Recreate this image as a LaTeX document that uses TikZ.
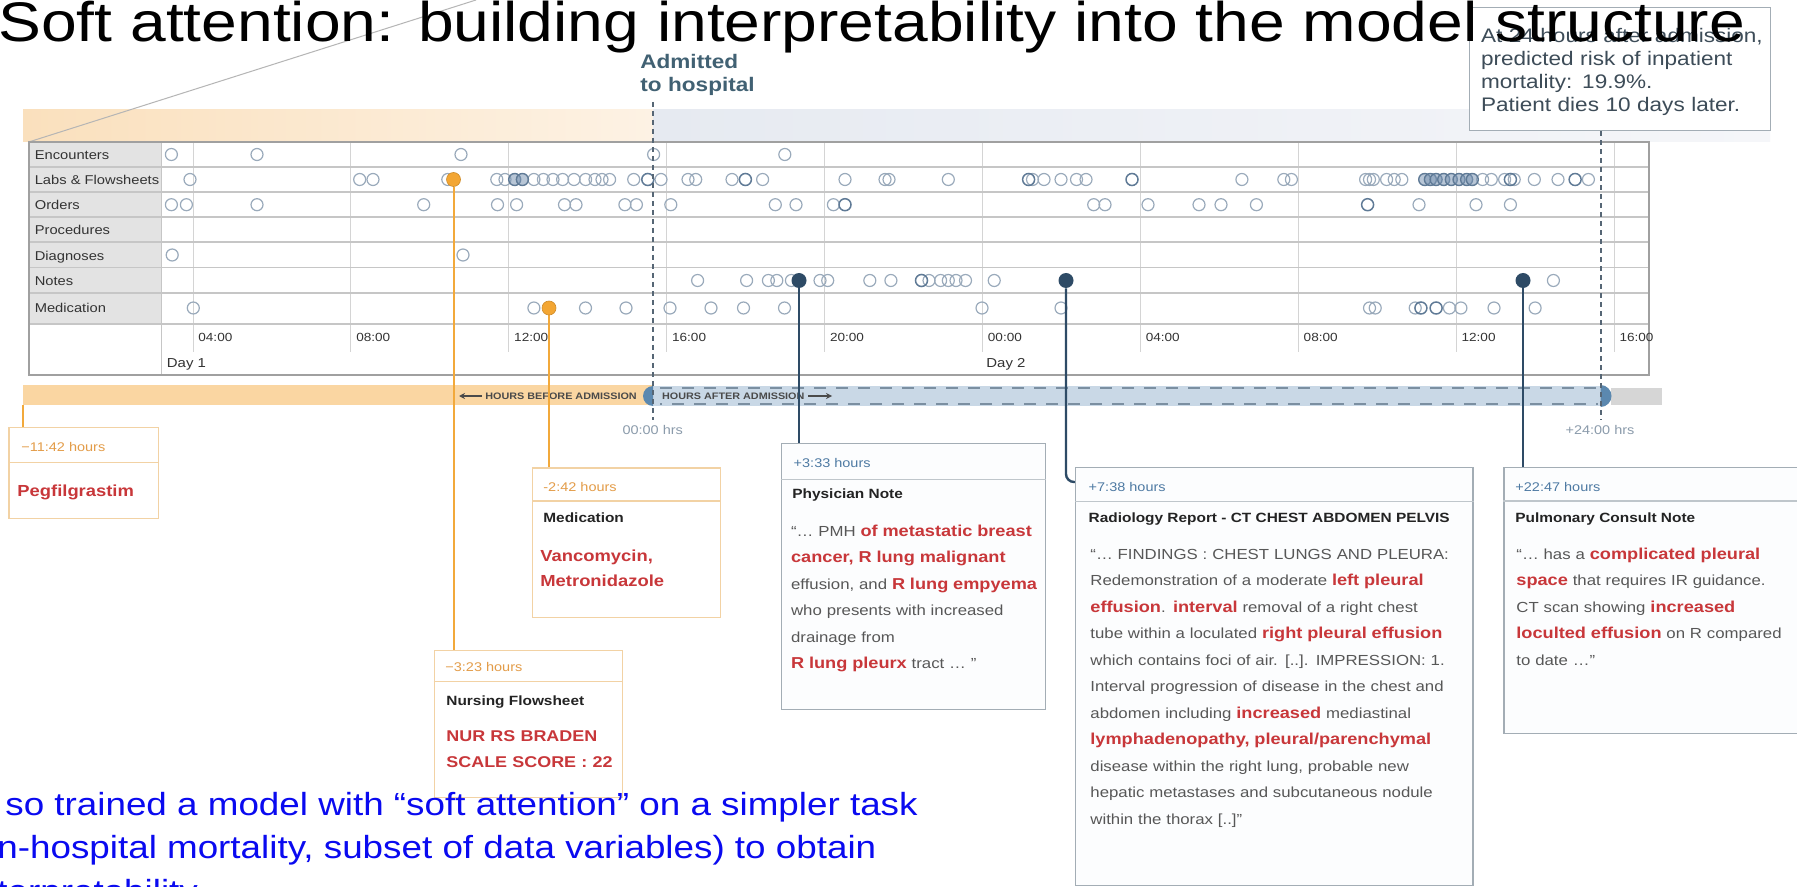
\documentclass[tikz,border=0pt]{standalone}
\usepackage{fontspec}
\setmainfont{Liberation Sans}[FakeStretch=1.15]
\usetikzlibrary{arrows.meta,calc}
\definecolor{rd}{HTML}{C8373A}
\definecolor{bodyg}{HTML}{575757}
\definecolor{ttl}{HTML}{232323}
\definecolor{hdrb}{HTML}{4E7AA3}
\definecolor{hdro}{HTML}{E39C48}
\definecolor{oborder}{HTML}{F2D2A4}
\definecolor{gborder}{HTML}{A3ADB5}
\definecolor{boxfill}{HTML}{FCFDFE}
\definecolor{navy}{HTML}{2E4B66}
\definecolor{corange}{HTML}{F2A93B}
\definecolor{dorange}{HTML}{F3A633}
\definecolor{cgray}{HTML}{9AAABB}
\definecolor{cdark}{HTML}{5F7A96}
\definecolor{cfill}{HTML}{7E98B5}
\definecolor{dline}{HTML}{566675}
\definecolor{colL}{HTML}{E3E3E3}
\definecolor{rowl}{HTML}{C6C6C6}
\definecolor{vl}{HTML}{D4D4D4}
\definecolor{gbd}{HTML}{A0A0A0}
\definecolor{barO}{HTML}{FAD6A2}
\definecolor{barB}{HTML}{C9D8E6}
\definecolor{barG}{HTML}{D6D6D6}
\definecolor{semiB}{HTML}{5B88AF}
\definecolor{dashB}{HTML}{7B8FA1}
\definecolor{hrsg}{HTML}{8B9BAB}
\definecolor{admc}{HTML}{416173}
\definecolor{infot}{HTML}{3D4C58}
\definecolor{ovl}{HTML}{0A0AF0}
\definecolor{lbl}{HTML}{333333}
\definecolor{peachA}{HTML}{FAE0BD}
\definecolor{peachB}{HTML}{FDF2E4}
\definecolor{bandA}{HTML}{E6EAF1}
\definecolor{bandB}{HTML}{F5F6F9}
\definecolor{diag}{HTML}{B5B5B5}
\definecolor{bartxt}{HTML}{4A4A4A}
\newcommand\fsz[2]{\fontsize{#1}{#2}\selectfont}
\newcommand\redb{\bfseries\color{rd}\fontsize{7.9}{13.25}\selectfont}
\pgfdeclarelayer{bg}
\pgfdeclarelayer{conn}
\pgfsetlayers{bg,conn,main}
\tikzset{
  circ/.style={draw=cgray, line width=0.6pt},
  circd/.style={draw=cdark, line width=0.75pt},
  circf/.style={draw=cdark, fill=cfill, fill opacity=0.55, line width=0.7pt},
  odot/.style={circle, fill=dorange, draw=dorange!85!black, line width=0.3pt, minimum size=7pt, inner sep=0},
  ndot/.style={circle, fill=navy, minimum size=7.5pt, inner sep=0},
  oconn/.style={draw=corange, line width=1pt},
  bconn/.style={draw=navy, line width=1.2pt},
  obox/.style={rectangle, draw=oborder, fill=white, line width=0.6pt, anchor=north west, inner sep=0},
  gbox/.style={rectangle, draw=gborder, fill=boxfill, line width=0.7pt, anchor=north west, inner sep=0},
  odiv/.style={draw=oborder, line width=0.6pt},
  gdiv/.style={draw=gborder!70, line width=0.6pt},
  txt/.style={anchor=base west, inner sep=0},
  admline/.style={draw=dline, line width=0.6pt, dash pattern=on 2.5pt off 2pt},
  rowlab/.style={txt, font=\fsz{6.4}{8}, text=lbl},
  timelab/.style={txt, font=\fsz{5.9}{7}, text=lbl},
  hdr/.style={txt, font=\fsz{6.3}{8}},
  boxtitle/.style={txt, font=\bfseries\fsz{6.7}{8}, text=ttl},
  body/.style={txt, text width=260pt, align=left, font=\fsz{7.3}{13.25}, text=bodyg},
  redtxt/.style={txt, text width=120pt, align=left, font=\bfseries\fsz{8}{12.5}, text=rd},
  bartext/.style={anchor=west, inner sep=0, font=\bfseries\fsz{4.7}{6}, text=bartxt},
  hrs/.style={anchor=center, inner sep=0, font=\fsz{6.3}{8}, text=hrsg},
}
\begin{document}
\begin{tikzpicture}[x=0.5pt,y=-0.5pt]
\useasboundingbox (0,0) rectangle (1797,887);

\begin{pgfonlayer}{bg}
\fill[white] (0,0) rectangle (1797,887);
% top bands
\shade[left color=peachA, right color=peachB] (23,110) rectangle (653,142);
\shade[left color=bandA, right color=bandB] (653,110) rectangle (1770,142);
% diagonal guide line
\draw[diag, line width=0.5pt] (28.7,142) -- (476,0);
% grid
\fill[white] (28.7,142) rectangle (1649.3,375);
\fill[colL] (28.7,142) rectangle (161.5,324.3);
\foreach \x in {193,350.9,508.8,666.7,824.6,982.5,1140.4,1298.3,1456.2,1614.1}
  \draw[vl, line width=0.5pt] (\x,142) -- (\x,352);
\foreach \y in {167,192,217.3,242.3,267.7,293.3,324.3}
  \draw[rowl, line width=0.8pt] (28.7,\y) -- (1649.3,\y);
\draw[rowl, line width=0.6pt] (161.5,142) -- (161.5,375);
\draw[gbd, line width=0.9pt] (28.7,142) rectangle (1649.3,375);
% row labels
\node[rowlab] (rEnc) at (34.4,159.5) {Encounters};
\node[rowlab] (rLab) at (34.4,184.5) {Labs \& Flowsheets};
\node[rowlab] (rOrd) at (34.4,210) {Orders};
\node[rowlab] (rPro) at (34.4,234.5) {Procedures};
\node[rowlab] (rDia) at (34.4,261) {Diagnoses};
\node[rowlab] (rNot) at (34.4,286) {Notes};
\node[rowlab] (rMed) at (34.4,313) {Medication};
% time labels
\foreach \x/\t [count=\i] in {193/04:00,350.9/08:00,508.8/12:00,666.7/16:00,824.6/20:00,982.5/00:00,1140.4/04:00,1298.3/08:00,1456.2/12:00,1614.1/16:00}
  \node[timelab] (tl\i) at (\x+5,341.5) {\t};
\node[txt, font=\fsz{6.5}{8}, text=lbl] (day1) at (166.5,367) {Day 1};
\node[txt, font=\fsz{6.5}{8}, text=lbl] (day2) at (986,367) {Day 2};
% event circles
\foreach \x in {171.4,257,461,653.6,784.8} \draw[circ] (\x,154.5) circle[radius=6];
\foreach \x in {190,359.7,373,447.8,496.8,505,533.9,543.4,553,562.6,574,585.6,595,602,609.6,633.7,661,688,695.7,732,762.6,845,885,889,948.3,1032.5,1044,1061,1076.5,1086,1241.9,1283.8,1291.4,1365.6,1369.5,1373.3,1386.6,1394.2,1401.8,1482.6,1491.3,1504.6,1514.2,1534.3,1558,1588.4}
  \draw[circ] (\x,179.5) circle[radius=6];
\foreach \x in {647.8,745.4,1028.6,1132,1510.4,1575.1} \draw[circd] (\x,179.5) circle[radius=6];
\foreach \x in {514.7,522.4,1424.7,1430.4,1436.1,1443.7,1451.3,1459,1466.6,1472.3} \draw[circf] (\x,179.5) circle[radius=6];
\foreach \x in {171.4,186.4,257,423.7,497.5,516.6,564.5,576,624.9,636.4,670.8,775.3,796,833.4,1093.7,1105,1148,1199,1221,1256.4,1419,1476,1510.4}
  \draw[circ] (\x,204.7) circle[radius=6];
\foreach \x in {845,1367.6} \draw[circd] (\x,204.7) circle[radius=6];
\foreach \x in {172.2,463} \draw[circ] (\x,255) circle[radius=6];
\foreach \x in {697.6,746.6,768.4,776.8,791.4,820,827.7,869.8,890.9,929,940.6,948.3,956,965.5,994.2,1553.4}
  \draw[circ] (\x,280.5) circle[radius=6];
\draw[circd] (921.5,280.5) circle[radius=6];
\foreach \x in {193.3,533.9,585.5,626,670,711,743.5,784.5,982,1061,1369.5,1375.2,1415.2,1449.4,1460.9,1494,1535.1}
  \draw[circ] (\x,308) circle[radius=6];
\foreach \x in {1420.9,1436.1} \draw[circd] (\x,308) circle[radius=6];
% time bar
\fill[barO] (23,385) rectangle (653,405);
\fill[barB] (653,386) rectangle (1600.5,406);
\fill[barG] (1611,388) rectangle (1661.6,405);
\draw[dashB, line width=0.8pt, dash pattern=on 6pt off 5pt] (660,388) -- (1598,388);
\draw[dashB, line width=0.8pt, dash pattern=on 6pt off 5pt, dash phase=5pt] (660,404) -- (1598,404);
\fill[semiB] (653,406) arc[start angle=90, end angle=270, radius=10] -- cycle;
\fill[semiB] (1600.5,407) arc[start angle=90, end angle=-90, radius=11] -- cycle;
\coordinate (hbA) at (482,396);
\coordinate (hbB) at (459,396);
\draw[bartxt, line width=0.6pt, -{Stealth[length=3pt,width=3pt]}] (hbA) -- (hbB);
\node[bartext] (hb) at (485,396) {HOURS BEFORE ADMISSION};
\node[bartext] (ha) at (661.7,396) {HOURS AFTER ADMISSION};
\coordinate (haA) at (808,396);
\coordinate (haB) at (832,396);
\draw[bartxt, line width=0.6pt, -{Stealth[length=3pt,width=3pt]}] (haA) -- (haB);
\node[hrs] (h0) at (652.7,430) {00:00 hrs};
\node[hrs] (h24) at (1600,430) {+24:00 hrs};
% admission dashed line
\coordinate (admT) at (653,102);
\coordinate (admB) at (653,420);
\draw[admline] (admT) -- (admB);
\end{pgfonlayer}

% info box (top right)
\node[gbox, draw=gborder, fill=white, minimum width=150.5pt, minimum height=61.5pt] (info) at (1469,7) {};
\node[txt, text width=160pt, align=left, font=\fsz{9.8}{11.5}, text=infot] (infotxt) at (1480.6,42.4)
  {At 24 hours after admission,\\predicted risk of inpatient\\mortality: 19.9\%.\\Patient dies 10 days later.};
\coordinate (d24B) at (1601,420);
\begin{pgfonlayer}{conn}
\draw[admline] (info.south -| d24B) -- (d24B);
\end{pgfonlayer}

% Admitted label
\node[txt, text width=80pt, align=left, font=\bfseries\fsz{9.8}{11.75}, text=admc] (adm) at (640,68.5) {Admitted\\to hospital};

% event dots
\node[odot] (dLabs) at (453.5,179.5) {};
\node[odot] (dMed) at (549,308) {};
\node[ndot] (dN1) at (799,280.5) {};
\node[ndot] (dN2) at (1066,280.5) {};
\node[ndot] (dN3) at (1523,280.5) {};

% boxes
\node[obox, minimum width=74.65pt, minimum height=45.5pt] (peg) at (8.4,426.7) {};
\node[obox, minimum width=94pt, minimum height=74.7pt] (med) at (532,467.3) {};
\node[obox, minimum width=94pt, minimum height=73.5pt] (nurs) at (433.7,650) {};
\node[gbox, minimum width=132.15pt, minimum height=133.15pt] (phys) at (780.7,442.7) {};
\node[gbox, minimum width=198.65pt, minimum height=209.15pt] (rad) at (1075,466.7) {};
\node[gbox, minimum width=155pt, minimum height=133.15pt] (pul) at (1503.3,466.7) {};
\draw[odiv] (peg.west |- 0,462.3) -- (peg.east |- 0,462.3);
\draw[odiv] (med.west |- 0,501) -- (med.east |- 0,501);
\draw[odiv] (nurs.west |- 0,681.7) -- (nurs.east |- 0,681.7);
\draw[gdiv] (phys.west |- 0,479.3) -- (phys.east |- 0,479.3);
\draw[gdiv] (rad.west |- 0,501.7) -- (rad.east |- 0,501.7);
\draw[gdiv] (pul.west |- 0,501) -- (pul.east |- 0,501);

% connectors
\coordinate (pegTop) at (23,405);
\coordinate (radIn) at (1075,482);
\begin{pgfonlayer}{conn}
\draw[oconn] (pegTop) -- (pegTop |- peg.north);
\draw[oconn] (dLabs) -- (dLabs |- nurs.north);
\draw[oconn] (dMed) -- (dMed |- med.north);
\draw[bconn] (dN1) -- (dN1 |- phys.north);
\draw[bconn, rounded corners=4pt] (dN2) |- (radIn);
\draw[bconn] (dN3) -- (dN3 |- pul.north);
\end{pgfonlayer}

% box texts
\node[hdr, text=hdro] (pegH) at (21,451.7) {−11:42 hours};
\node[redtxt] (pegR) at (17,496) {Pegfilgrastim};

\node[hdr, text=hdro] (medH) at (543,491.7) {-2:42 hours};
\node[boxtitle] (medT) at (543,522.2) {Medication};
\node[redtxt] (medR) at (540,561) {Vancomycin,\\Metronidazole};

\node[hdr, text=hdro] (nurH) at (445,671.7) {−3:23 hours};
\node[boxtitle] (nurT) at (446,705) {Nursing Flowsheet};
\node[redtxt, font=\bfseries\fsz{7.8}{13}] (nurR) at (446,741) {NUR RS BRADEN\\SCALE SCORE : 22};

\node[hdr, text=hdrb] (phyH) at (793.3,467.7) {+3:33 hours};
\node[boxtitle] (phyT) at (792,498.8) {Physician Note};
\node[body] (phyB) at (790.7,536) {“… PMH {\redb of metastatic breast}\\
{\redb cancer, R lung malignant}\\
effusion, and {\redb R lung empyema}\\
who presents with increased\\
drainage from\\
{\redb R lung pleurx} tract … ”};

\node[hdr, text=hdrb] (radH) at (1088.3,491.7) {+7:38 hours};
\node[boxtitle] (radT) at (1088.3,522.8) {Radiology Report - CT CHEST ABDOMEN PELVIS};
\node[body] (radB) at (1090,559) {“…  FINDINGS : CHEST LUNGS AND PLEURA:\\
Redemonstration of a moderate {\redb left pleural}\\
{\redb effusion}. {\redb interval} removal of a right chest\\
tube within a loculated {\redb right pleural effusion}\\
which contains foci of air. [..]. IMPRESSION: 1.\\
Interval progression of disease in the chest and\\
abdomen including {\redb increased} mediastinal\\
{\redb lymphadenopathy, pleural/parenchymal}\\
disease within the right lung, probable new\\
hepatic metastases and subcutaneous nodule\\
within the thorax [..]”};

\node[hdr, text=hdrb] (pulH) at (1515,491.7) {+22:47 hours};
\node[boxtitle] (pulT) at (1515,522.8) {Pulmonary Consult Note};
\node[body] (pulB) at (1516,559) {“… has a {\redb complicated pleural}\\
{\redb space} that requires IR guidance.\\
CT scan showing {\redb increased}\\
{\redb loculted effusion} on R compared\\
to date …”};

% slide title and overlay text
\node[txt, font=\fsz{27.9}{32}, text=black] (title) at (-2,42) {Soft attention: building interpretability into the model structure};
\node[txt, font=\fsz{16}{18}, text=ovl] (ov1) at (5,815) {so trained a model with “soft attention” on a simpler task};
\node[txt, font=\fsz{16}{18}, text=ovl] (ov2) at (-3,858) {n-hospital mortality, subset of data variables) to obtain};
\node[txt, font=\fsz{16}{18}, text=ovl] (ov3) at (-3,902) {terpretability};
\end{tikzpicture}
\end{document}
